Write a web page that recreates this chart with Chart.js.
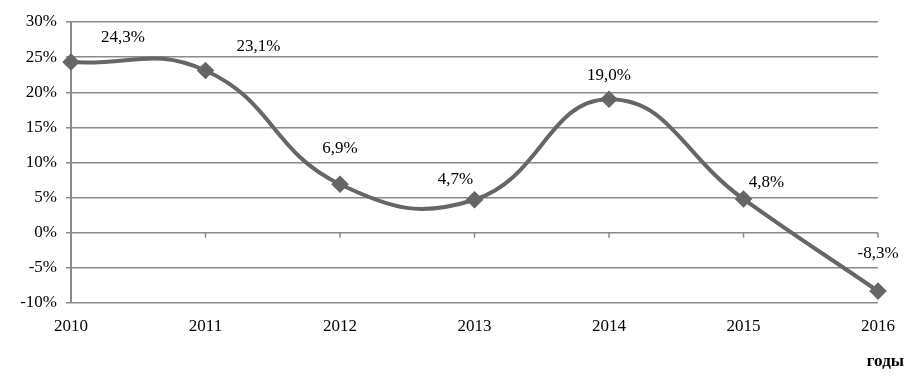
<!DOCTYPE html>
<html>
<head>
<meta charset="utf-8">
<script src="https://cdn.jsdelivr.net/npm/chart.js@4.4.0/dist/chart.umd.min.js"></script>
<style>
  html, body { margin: 0; padding: 0; background: #fff; }
  #wrap { width: 920px; height: 387px; }
</style>
</head>
<body>
<div id="wrap"><canvas id="growthChart" width="920" height="387"></canvas></div>
<script>
// годы и темпы прироста, %
const years = ["2010", "2011", "2012", "2013", "2014", "2015", "2016"];
const growth = [24.3, 23.1, 6.9, 4.7, 19.0, 4.8, -8.3];
const labelTexts = ["24,3%", "23,1%", "6,9%", "4,7%", "19,0%", "4,8%", "-8,3%"];
const yTicks = [-10, -5, 0, 5, 10, 15, 20, 25, 30];

// смещения подписей (как в исходной диаграмме)
const labelShift = [[52, -25], [53, -24], [0, -36], [-19, -20], [0, -24], [23, -16], [0, -38]];

const serif = "'Liberation Serif', 'Times New Roman', serif";

// подписи значений + засечки на нулевой линии + "годы"
const extras = {
    id: "extras",
    afterDatasetsDraw(chart) {
        const ctx = chart.ctx;
        const x = chart.scales.x;
        const y = chart.scales.y;
        const y0 = y.getPixelForValue(0);

        ctx.save();
        ctx.strokeStyle = "#8a8a8a";
        ctx.lineWidth = 1.5;
        years.forEach((_, i) => {
            if (i === 0) return;
            const px = x.getPixelForValue(i);
            ctx.beginPath();
            ctx.moveTo(px, y0);
            ctx.lineTo(px, y0 + 5);
            ctx.stroke();
        });

        ctx.fillStyle = "#000";
        ctx.font = "17px " + serif;
        ctx.textAlign = "center";
        ctx.textBaseline = "middle";
        const meta = chart.getDatasetMeta(0);
        meta.data.forEach((pt, i) => {
            ctx.fillText(labelTexts[i], pt.x + labelShift[i][0], pt.y + labelShift[i][1]);
        });

        ctx.font = "bold 17px " + serif;
        ctx.textAlign = "right";
        ctx.fillText("годы", 904, 362);
        ctx.restore();
    }
};

new Chart(document.getElementById("growthChart"), {
    type: "line",
    data: {
        labels: years,
        datasets: [{
            data: growth,
            borderColor: "#666666",
            backgroundColor: "#666666",
            borderWidth: 4,
            tension: 0.45,
            pointStyle: "rectRot",
            pointRadius: 6,
            pointHoverRadius: 6
        }]
    },
    options: {
        responsive: false,
        animation: false,
        layout: { padding: { top: 22, right: 42, left: 0, bottom: 0 } },
        plugins: {
            legend: { display: false },
            tooltip: { enabled: false }
        },
        scales: {
            x: {
                offset: false,
                grid: { display: false, drawTicks: false },
                border: { display: false },
                ticks: {
                    color: "#000",
                    font: { family: serif, size: 17 },
                    padding: 13,
                    maxRotation: 0,
                    autoSkip: false
                },
                afterFit(scale) { scale.height = 84; }
            },
            y: {
                min: -10,
                max: 30,
                afterBuildTicks(scale) {
                    scale.ticks = yTicks.map(v => ({ value: v }));
                },
                grid: {
                    color: "#8a8a8a",
                    lineWidth: 1.5,
                    tickLength: 5,
                    tickColor: "#8a8a8a"
                },
                border: { display: true, color: "#8a8a8a", width: 2 },
                ticks: {
                    color: "#000",
                    font: { family: serif, size: 17 },
                    padding: 9,
                    callback: v => v + "%"
                },
                afterFit(scale) { scale.width = 71; }
            }
        }
    },
    plugins: [extras]
});
</script>
</body>
</html>
